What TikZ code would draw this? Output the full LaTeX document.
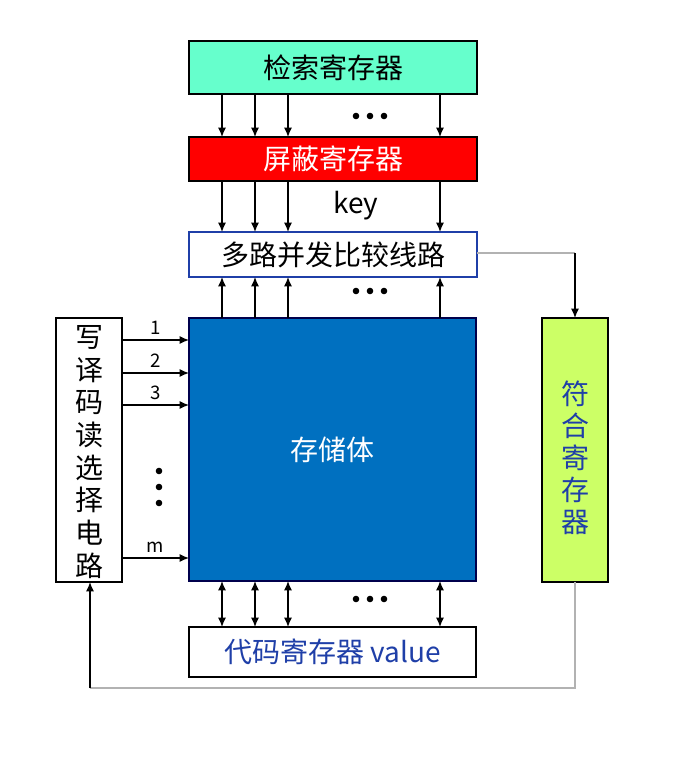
\documentclass[tikz,border=0pt]{standalone}
\usepackage{fontspec}
\usetikzlibrary{arrows.meta}
\setmainfont{Noto Sans CJK SC}
\begin{document}
\begin{tikzpicture}[x=0.75pt,y=-0.75pt,
  bx/.style={draw,line width=1.5pt,inner sep=0},
  ar/.style={-{Latex[length=7pt,width=6pt]},line width=0.9pt},
  dar/.style={{Latex[length=7pt,width=6pt]}-{Latex[length=7pt,width=6pt]},line width=0.9pt},
  txt/.style={font=\fontsize{21}{23}\selectfont}]
\useasboundingbox (0,0) rectangle (682,760);
\definecolor{mint}{HTML}{66FFCC}
\definecolor{rd}{HTML}{FF0000}
\definecolor{stor}{HTML}{0070C0}
\definecolor{lg}{HTML}{CCFF66}
\definecolor{tb}{HTML}{1F3FA8}
\path[bx,fill=mint] (189,41) rectangle (477,94) node[midway,txt] (r1) {检索寄存器};
\path[bx,fill=rd] (189,137) rectangle (477,181) node[midway,txt,white] (r2) {屏蔽寄存器};
\path[draw=tb,line width=1.5pt,fill=white] (189,232) rectangle (477,277) node[midway,txt] (r3) {多路并发比较线路};
\path[draw=black!70!blue,line width=1.2pt,fill=stor] (189,318) rectangle (476,581) node[midway,txt,white] (st) {存储体};
\path[bx,fill=white] (56,318) rectangle (122,582);
\path[bx,fill=lg] (542,318) rectangle (608,582);
\path[bx,fill=white] (189,627) rectangle (476,677) node[midway,txt,tb] (r4) {代码寄存器 value};
\node[txt] (key) at (356,206) {key};
\node[align=center,font=\fontsize{21}{24.5}\selectfont] (lt) at (89,452) {写\\译\\码\\读\\选\\择\\电\\路};
\node[tb,align=center,font=\fontsize{21}{24}\selectfont] (rt) at (575,458) {符\\合\\寄\\存\\器};
\foreach \x in {222,255,288,440}{
  \coordinate (a\x) at (\x,94); \coordinate (b\x) at (\x,137);
  \draw[ar] (a\x) -- (b\x);
  \coordinate (c\x) at (\x,181); \coordinate (d\x) at (\x,232);
  \draw[ar] (c\x) -- (d\x);
  \coordinate (e\x) at (\x,318); \coordinate (f\x) at (\x,277);
  \draw[ar] (e\x) -- (f\x);
  \coordinate (g\x) at (\x,581); \coordinate (h\x) at (\x,627);
  \draw[dar] (g\x) -- (h\x);
}
\foreach \yy in {116,291,599}{
  \foreach \dx in {-14,0,14} \fill (370+\dx,\yy) circle (3.3);
}
\foreach \yy in {471,487,503} \fill (159,\yy) circle (3.3);
\foreach \yy/\lab in {340/1,373/2,405/3,558/m}{
  \coordinate (l\yy) at (122,\yy); \coordinate (s\yy) at (189,\yy);
  \draw[ar] (l\yy) -- (s\yy) node[pos=0.5,above,font=\fontsize{14}{14}\selectfont] {\lab};
}
\coordinate (k1) at (477,253); \coordinate (k2) at (575,253); \coordinate (k3) at (575,318);
\draw[gray!60,line width=1pt] (k1) -- (k2);
\draw[ar] (k2) -- (k3);
\coordinate (m1) at (575,582); \coordinate (m2) at (575,688); \coordinate (m3) at (90,688); \coordinate (m4) at (90,582);
\draw[gray!60,line width=1pt] (m1) -- (m2) -- (m3);
\draw[ar] (m3) -- (m4);
\end{tikzpicture}
\end{document}
